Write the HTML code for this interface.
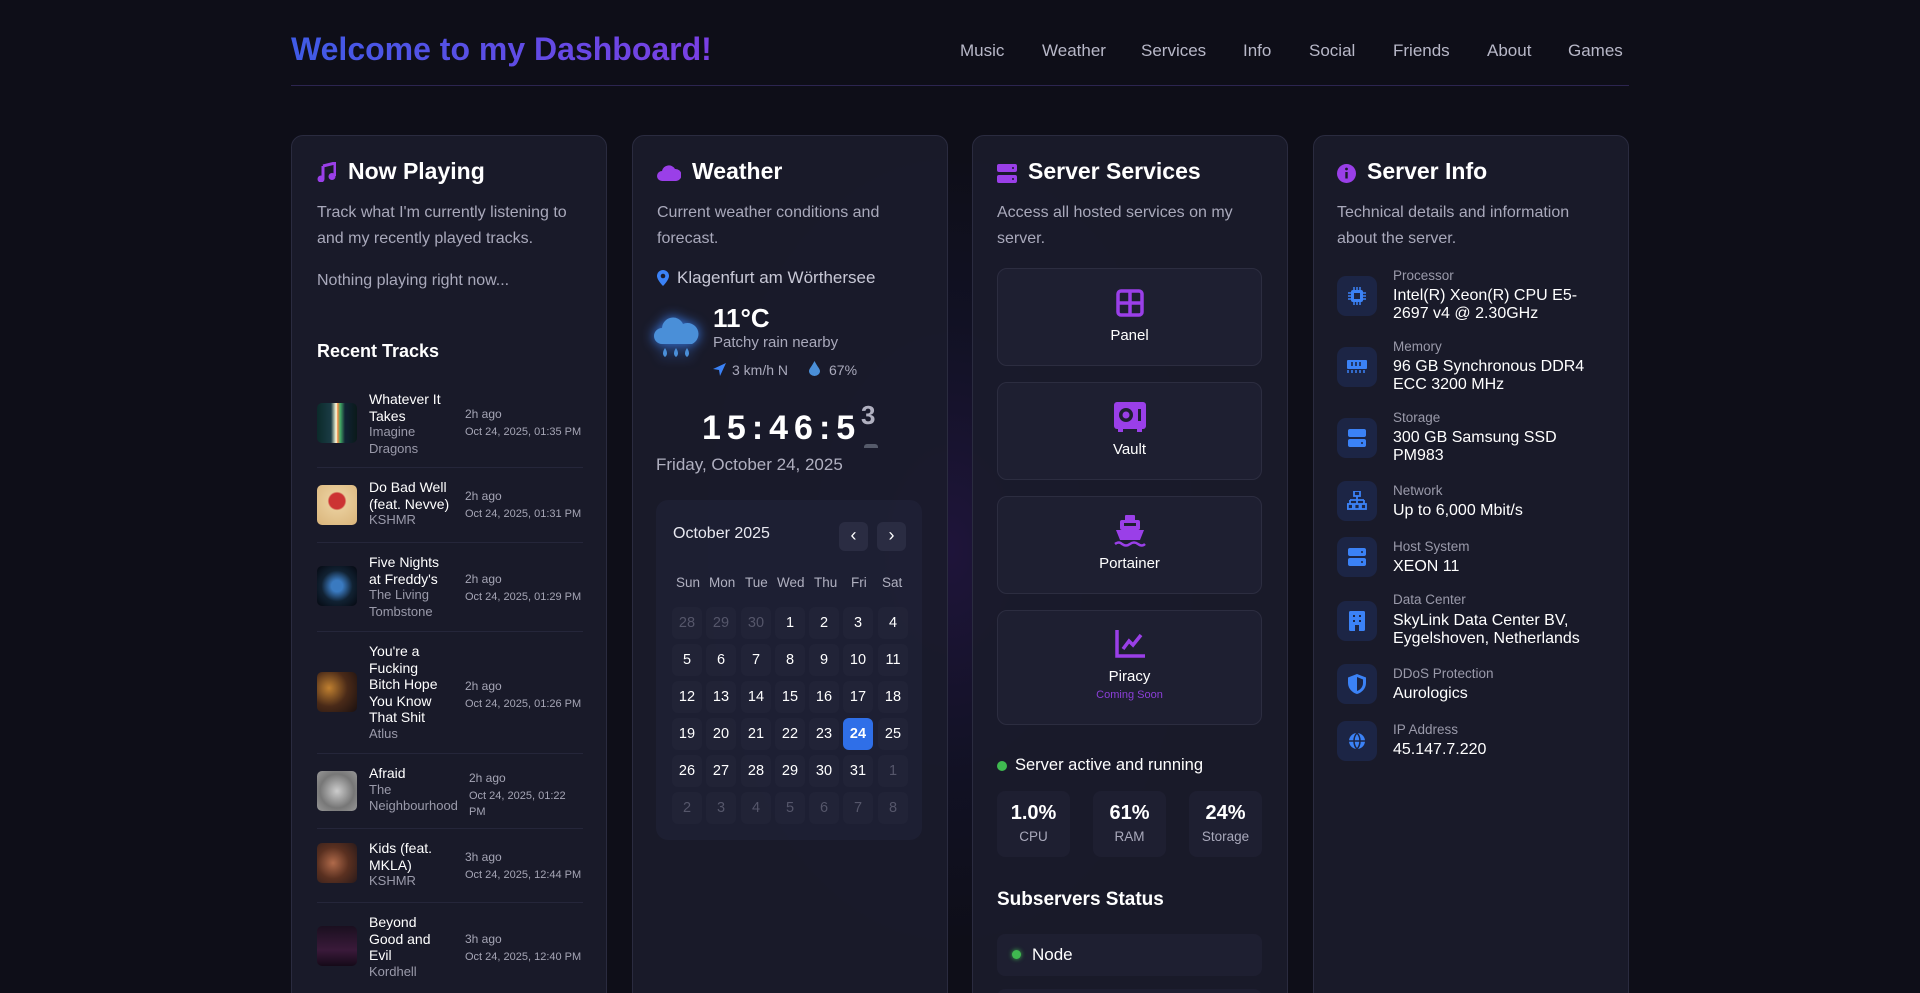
<!DOCTYPE html>
<html><head><meta charset="utf-8">
<style>
*{margin:0;padding:0;box-sizing:border-box}
html,body{width:1920px;height:993px;overflow:hidden}
body{background:#0e0e18;font-family:"Liberation Sans",sans-serif;color:#fff}
#w{position:relative;width:1920px;height:993px;overflow:hidden;background:#0e0e18}
.glow{position:absolute;left:700px;top:150px;width:500px;height:800px;background:radial-gradient(ellipse at center,rgba(80,40,160,0.25),rgba(40,40,120,0.12) 40%,rgba(0,0,0,0) 70%)}
.a{position:absolute;white-space:nowrap}
h1{position:absolute;left:291px;top:31px;font-size:32px;font-weight:bold;background:linear-gradient(90deg,#3f5be6,#7b3fe4);-webkit-background-clip:text;color:transparent}
.nav{position:absolute;top:41px;font-size:17px;color:#b8b8c8}
.hr{position:absolute;left:291px;top:85px;width:1338px;height:1px;background:#2c2550}
.card{position:absolute;top:135px;width:316px;height:880px;background:rgba(26,27,43,0.92);border:1px solid #2a2b3f;border-radius:12px}
.ct{position:absolute;top:158px;font-size:23px;font-weight:bold}
.desc{position:absolute;font-size:16px;color:#a9a9bb;line-height:26px}
.trk{position:absolute;left:317px;width:266px}
.thumb{position:absolute;left:0;width:40px;height:40px;border-radius:5px}
.tt{position:absolute;left:52px;width:82px;font-size:14px;line-height:16.5px;color:#fff;white-space:normal}
.tt span{color:#9a9aaa;font-size:13px;display:block}
.tm{position:absolute;left:148px;font-size:12px;color:#a5a5b5;line-height:20px;white-space:nowrap}
.tm b{font-weight:normal;font-size:11px;display:block;line-height:16px}
.sep{position:absolute;left:317px;width:266px;height:1px;background:#25263a}
.cell{position:absolute;width:30px;height:32px;line-height:32px;text-align:center;font-size:14.5px;color:#fff;border-radius:6px;background:rgba(255,255,255,0.02)}
.dim{color:#55566a}
.tile{position:absolute;left:997px;width:265px;background:#1e1f31;border:1px solid #2c2d40;border-radius:10px;text-align:center;font-size:15px}
.stat{position:absolute;top:791px;width:73px;height:66px;background:#1e1f31;border-radius:8px;text-align:center}
.stat b{display:block;font-size:20px;margin-top:11px}
.stat span{display:block;font-size:13.5px;color:#a9a9bb;margin-top:4px}
.ib{position:absolute;left:1337px;width:40px;height:40px;border-radius:9px;background:#1c2545}
.lb{position:absolute;left:1393px;font-size:13.5px;color:#9a9aaa}
.vl{position:absolute;left:1393px;font-size:16px;color:#fff;line-height:18px}
</style></head><body><div id="w">
<div class="glow"></div>
<h1>Welcome to my Dashboard!</h1>
<div class="nav" style="left:960px">Music</div>
<div class="nav" style="left:1042px">Weather</div>
<div class="nav" style="left:1141px">Services</div>
<div class="nav" style="left:1243px">Info</div>
<div class="nav" style="left:1309px">Social</div>
<div class="nav" style="left:1393px">Friends</div>
<div class="nav" style="left:1487px">About</div>
<div class="nav" style="left:1568px">Games</div>
<div class="hr"></div>

<div class="card" style="left:291px"></div>
<div class="card" style="left:632px"></div>
<div class="card" style="left:972px"></div>
<div class="card" style="left:1313px"></div>

<!-- Now playing -->
<svg class="a" style="left:317px;top:162px" width="19" height="20" viewBox="0 0 19 20"><path d="M6 4 L18 1 V14 M6 4 V17" stroke="#9a3fe8" stroke-width="3" fill="none"/><circle cx="4" cy="17" r="3.5" fill="#9a3fe8"/><circle cx="15" cy="14.5" r="3.5" fill="#9a3fe8"/></svg>
<div class="ct a" style="left:348px">Now Playing</div>
<div class="desc a" style="left:317px;top:200px">Track what I'm currently listening to<br>and my recently played tracks.</div>
<div class="desc a" style="left:317px;top:268px">Nothing playing right now...</div>
<div class="a" style="left:317px;top:341px;font-size:18px;font-weight:bold">Recent Tracks</div>

<div class="trk" style="top:390px;height:76px"><div class="thumb" style="top:13px;background:linear-gradient(90deg,#0b2a2a,#1a3b44 35%,#ffd 48%,#e84 52%,#4a6 58%,#123 70%,#0a1a1a)"></div><div class="tt" style="top:1px">Whatever It Takes<span>Imagine Dragons</span></div><div class="tm" style="top:14px">2h ago<b>Oct 24, 2025, 01:35 PM</b></div></div>
<div class="sep" style="top:467px"></div>
<div class="trk" style="top:478px"><div class="thumb" style="top:7px;background:radial-gradient(circle at 50% 40%,#c33 0 25%,#e8cc99 30%,#d9b47a)"></div><div class="tt" style="top:1px;width:90px">Do Bad Well (feat. Nevve)<span>KSHMR</span></div><div class="tm" style="top:8px">2h ago<b>Oct 24, 2025, 01:31 PM</b></div></div>
<div class="sep" style="top:542px"></div>
<div class="trk" style="top:553px"><div class="thumb" style="top:13px;background:radial-gradient(circle,#3a7ac0 0 20%,#123 55%,#050810)"></div><div class="tt" style="top:1px">Five Nights at Freddy's<span>The Living Tombstone</span></div><div class="tm" style="top:16px">2h ago<b>Oct 24, 2025, 01:29 PM</b></div></div>
<div class="sep" style="top:631px"></div>
<div class="trk" style="top:642px"><div class="thumb" style="top:30px;background:radial-gradient(circle at 30% 40%,#c08030,#4a2a18 50%,#1a1010)"></div><div class="tt" style="top:1px;width:80px">You're a Fucking Bitch Hope You Know That Shit<span>Atlus</span></div><div class="tm" style="top:34px">2h ago<b>Oct 24, 2025, 01:26 PM</b></div></div>
<div class="sep" style="top:753px"></div>
<div class="trk" style="top:764px"><div class="thumb" style="top:7px;background:radial-gradient(circle,#ccc,#777 60%,#999)"></div><div class="tt" style="top:1px;width:100px">Afraid<span>The Neighbourhood</span></div><div class="tm" style="top:4px;left:152px;width:112px;white-space:normal">2h ago<b>Oct 24, 2025, 01:22 PM</b></div></div>
<div class="sep" style="top:828px"></div>
<div class="trk" style="top:839px"><div class="thumb" style="top:4px;background:radial-gradient(circle at 40% 50%,#b06a4a,#5a3020 50%,#2a1a1a)"></div><div class="tt" style="top:1px">Kids (feat. MKLA)<span>KSHMR</span></div><div class="tm" style="top:8px">3h ago<b>Oct 24, 2025, 12:44 PM</b></div></div>
<div class="sep" style="top:902px"></div>
<div class="trk" style="top:913px"><div class="thumb" style="top:13px;background:linear-gradient(#1a0f1f,#3a1a3a 60%,#150a18)"></div><div class="tt" style="top:1px;width:76px">Beyond Good and Evil<span>Kordhell</span></div><div class="tm" style="top:16px">3h ago<b>Oct 24, 2025, 12:40 PM</b></div></div>

<!-- Weather -->
<svg class="a" style="left:657px;top:164px" width="24" height="17" viewBox="0 0 24 17"><path d="M5 17 A5 5 0 0 1 5 7 A7 7 0 0 1 18 5 A6 6 0 0 1 19 17Z" fill="#9a3fe8"/></svg>
<div class="ct a" style="left:692px">Weather</div>
<div class="desc a" style="left:657px;top:200px">Current weather conditions and<br>forecast.</div>
<svg class="a" style="left:657px;top:270px" width="12" height="16" viewBox="0 0 12 16"><path d="M6 0A6 6 0 0 0 0 6C0 10 6 16 6 16S12 10 12 6A6 6 0 0 0 6 0Z" fill="#3b82f6"/><circle cx="6" cy="6" r="2.3" fill="#1a1b2b"/></svg>
<div class="a" style="left:677px;top:268px;font-size:17px;color:#c8c8d6">Klagenfurt am Wörthersee</div>
<svg class="a" style="left:654px;top:312px;filter:drop-shadow(0 0 6px #3b82f6)" width="46" height="50" viewBox="0 0 46 50"><path d="M8 32 A8 8 0 0 1 8 16 A11 11 0 0 1 29 12 A9 9 0 0 1 38 32Z" fill="#4a8fd8"/><path d="M11 36 q-4 6 0 9 q4 -3 0 -9Z M22 36 q-4 6 0 9 q4 -3 0 -9Z M33 36 q-4 6 0 9 q4 -3 0 -9Z" fill="#4a8fd8"/></svg>
<div class="a" style="left:713px;top:303px;font-size:26px;font-weight:bold">11°C</div>
<div class="a" style="left:713px;top:334px;font-size:15px;color:#a9a9bb">Patchy rain nearby</div>
<svg class="a" style="left:713px;top:363px" width="13" height="13" viewBox="0 0 13 13"><path d="M13 0 L0 6 L6 7 L7 13Z" fill="#3b82f6"/></svg>
<div class="a" style="left:732px;top:362px;font-size:14px;color:#a9a9bb">3 km/h N</div>
<svg class="a" style="left:809px;top:361px" width="11" height="15" viewBox="0 0 11 15"><path d="M5.5 0 C3 5 0 8 0 10 A5.5 5 0 0 0 11 10 C11 8 8 5 5.5 0Z" fill="#4a8fd8"/></svg>
<div class="a" style="left:829px;top:362px;font-size:14px;color:#a9a9bb">67%</div>
<div class="a" style="left:702px;top:409px;font-size:34px;font-weight:bold;letter-spacing:6px">15:46:5</div>
<div class="a" style="left:861px;top:400px;font-size:26px;font-weight:bold;color:#b0b0c0">3</div>
<div class="a" style="left:864px;top:444px;width:14px;height:4px;border-radius:3px 3px 0 0;background:#555a6a"></div>
<div class="a" style="left:656px;top:455px;font-size:17px;color:#b0b0c0">Friday, October 24, 2025</div>
<div class="a" style="left:656px;top:500px;width:266px;height:340px;border-radius:12px;background:rgba(35,38,62,0.45)"></div>
<div class="a" style="left:673px;top:525px;font-size:16px;color:#e8e8f0">October 2025</div>
<div class="a" style="left:839px;top:522px;width:29px;height:29px;border-radius:6px;background:#2a2c42;text-align:center;line-height:27px;font-size:18px">‹</div>
<div class="a" style="left:877px;top:522px;width:29px;height:29px;border-radius:6px;background:#2a2c42;text-align:center;line-height:27px;font-size:18px">›</div>
<div class="a" style="left:676px;top:575px;font-size:13.5px;color:#b0b0c0">
<span style="position:absolute;left:0">Sun</span><span style="position:absolute;left:33px">Mon</span><span style="position:absolute;left:69px">Tue</span><span style="position:absolute;left:101px">Wed</span><span style="position:absolute;left:138px">Thu</span><span style="position:absolute;left:175px">Fri</span><span style="position:absolute;left:206px">Sat</span></div>
<div id="cal"></div>
<script>
(function(){var xs=[687,721,756,790,824,858,893],ys=[623,660,697,734,771,808];
var d=[28,29,30,1,2,3,4,5,6,7,8,9,10,11,12,13,14,15,16,17,18,19,20,21,22,23,24,25,26,27,28,29,30,31,1,2,3,4,5,6,7,8];
var h='';for(var i=0;i<42;i++){var r=Math.floor(i/7),c=i%7;var dim=(i<3||i>33);var st='left:'+(xs[c]-15)+'px;top:'+(ys[r]-16)+'px';
var cls='cell'+(dim?' dim':'');if(d[i]==24&&!dim){st+=';background:#2f6fe8;font-weight:bold';}
h+='<div class="'+cls+'" style="'+st+'">'+d[i]+'</div>';}
document.getElementById('cal').innerHTML=h;})();
</script>

<!-- Server services -->
<svg class="a" style="left:997px;top:164px" width="20" height="19" viewBox="0 0 20 19"><rect x="0" y="0" width="20" height="8" rx="2" fill="#9a3fe8"/><rect x="0" y="11" width="20" height="8" rx="2" fill="#9a3fe8"/><circle cx="16" cy="4" r="1" fill="#1a1b2b"/><circle cx="16" cy="15" r="1" fill="#1a1b2b"/></svg>
<div class="ct a" style="left:1028px">Server Services</div>
<div class="desc a" style="left:997px;top:200px">Access all hosted services on my<br>server.</div>
<div class="tile" style="top:268px;height:98px"><svg style="margin-top:20px" width="28" height="28" viewBox="0 0 28 28"><rect x="2" y="2" width="24" height="24" rx="3" fill="none" stroke="#9a3fe8" stroke-width="3.5"/><path d="M14 2V26M2 14H26" stroke="#9a3fe8" stroke-width="3.5"/></svg><div style="margin-top:6px">Panel</div></div>
<div class="tile" style="top:382px;height:98px"><svg style="margin-top:19px" width="32" height="30" viewBox="0 0 32 30"><rect x="0" y="0" width="32" height="27" rx="3" fill="#9a3fe8"/><circle cx="12" cy="13" r="7" fill="#1e1f31"/><circle cx="12" cy="13" r="3.5" fill="#9a3fe8"/><rect x="24" y="7" width="3" height="12" fill="#1e1f31"/><rect x="4" y="27" width="5" height="3" fill="#9a3fe8"/><rect x="23" y="27" width="5" height="3" fill="#9a3fe8"/></svg><div style="margin-top:5px">Vault</div></div>
<div class="tile" style="top:496px;height:98px"><svg style="margin-top:18px" width="32" height="32" viewBox="0 0 32 32"><rect x="11" y="0" width="10" height="6" rx="1" fill="#9a3fe8"/><rect x="6" y="5" width="20" height="10" rx="2" fill="#9a3fe8"/><path d="M2 15H30L26 25H6Z" fill="#9a3fe8"/><rect x="10" y="8" width="12" height="3" fill="#1e1f31"/><path d="M1 29 q4 -3 7 0 q4 3 8 0 q4 -3 8 0 q4 3 7 0" stroke="#9a3fe8" stroke-width="2.5" fill="none"/></svg><div style="margin-top:4px">Portainer</div></div>
<div class="tile" style="top:610px;height:115px"><svg style="margin-top:19px" width="30" height="28" viewBox="0 0 30 28"><path d="M2 0V26H30" stroke="#9a3fe8" stroke-width="3.5" fill="none"/><path d="M8 19L14 11L18 15L26 5" stroke="#9a3fe8" stroke-width="3.5" fill="none"/></svg><div style="margin-top:6px">Piracy</div><div style="font-size:11px;color:#8b3fd8;margin-top:4px">Coming Soon</div></div>
<div class="a" style="left:997px;top:761px;width:10px;height:10px;border-radius:50%;background:#3fb950"></div>
<div class="a" style="left:1015px;top:756px;font-size:16.5px">Server active and running</div>
<div class="stat" style="left:997px"><b>1.0%</b><span>CPU</span></div>
<div class="stat" style="left:1093px"><b>61%</b><span>RAM</span></div>
<div class="stat" style="left:1189px"><b>24%</b><span>Storage</span></div>
<div class="a" style="left:997px;top:889px;font-size:19px;font-weight:bold">Subservers Status</div>
<div class="a" style="left:997px;top:934px;width:265px;height:42px;border-radius:8px;background:#1e1f31"></div>
<div class="a" style="left:1012px;top:950px;width:9px;height:9px;border-radius:50%;background:#3fb950;box-shadow:0 0 5px #3fb950"></div>
<div class="a" style="left:1032px;top:945px;font-size:17px">Node</div>
<div class="a" style="left:997px;top:989px;width:265px;height:42px;border-radius:8px;background:#1e1f31"></div>

<!-- Server info -->
<svg class="a" style="left:1337px;top:164px" width="19" height="19" viewBox="0 0 19 19"><circle cx="9.5" cy="9.5" r="9.5" fill="#9a3fe8"/><rect x="8.3" y="8" width="2.4" height="6.5" fill="#1a1b2b"/><circle cx="9.5" cy="5" r="1.4" fill="#1a1b2b"/></svg>
<div class="ct a" style="left:1367px">Server Info</div>
<div class="desc a" style="left:1337px;top:200px">Technical details and information<br>about the server.</div>

<div class="ib" style="top:276px"></div><svg class="a" style="left:1348px;top:287px" width="18" height="18" viewBox="0 0 18 18"><rect x="3" y="3" width="12" height="12" rx="2" fill="#3b82f6"/><rect x="6" y="6" width="6" height="6" fill="#1c2545"/><path d="M6 0V3M9 0V3M12 0V3M6 15V18M9 15V18M12 15V18M0 6H3M0 9H3M0 12H3M15 6H18M15 9H18M15 12H18" stroke="#3b82f6" stroke-width="1.5"/></svg>
<div class="lb" style="top:268px">Processor</div><div class="vl" style="top:287px">Intel(R) Xeon(R) CPU E5-<br>2697 v4 @ 2.30GHz</div>

<div class="ib" style="top:347px"></div><svg class="a" style="left:1347px;top:359px" width="20" height="14" viewBox="0 0 20 14"><rect x="0" y="1" width="20" height="9" rx="1" fill="#3b82f6"/><path d="M5 3V7M9 3V7M13 3V7" stroke="#1c2545" stroke-width="1.6"/><path d="M1 11V14M5 11V14M9 11V14M13 11V14M17 11V14" stroke="#3b82f6" stroke-width="1.5"/></svg>
<div class="lb" style="top:339px">Memory</div><div class="vl" style="top:358px">96 GB Synchronous DDR4<br>ECC 3200 MHz</div>

<div class="ib" style="top:418px"></div><svg class="a" style="left:1348px;top:429px" width="18" height="18" viewBox="0 0 18 18"><rect x="0" y="0" width="18" height="8" rx="2" fill="#3b82f6"/><rect x="0" y="10" width="18" height="8" rx="2" fill="#3b82f6"/><circle cx="14" cy="14" r="1" fill="#1c2545"/></svg>
<div class="lb" style="top:410px">Storage</div><div class="vl" style="top:429px">300 GB Samsung SSD<br>PM983</div>

<div class="ib" style="top:481px"></div><svg class="a" style="left:1347px;top:491px" width="20" height="20" viewBox="0 0 20 20"><rect x="7" y="0" width="6" height="5" fill="none" stroke="#3b82f6" stroke-width="1.8"/><path d="M10 5V9M3 9H17M3 9V13M17 9V13M10 9V13" stroke="#3b82f6" stroke-width="1.8"/><rect x="0.9" y="13" width="5" height="5" fill="none" stroke="#3b82f6" stroke-width="1.8"/><rect x="14" y="13" width="5" height="5" fill="none" stroke="#3b82f6" stroke-width="1.8"/><rect x="7.5" y="13" width="5" height="5" fill="none" stroke="#3b82f6" stroke-width="1.8"/></svg>
<div class="lb" style="top:483px">Network</div><div class="vl" style="top:502px">Up to 6,000 Mbit/s</div>

<div class="ib" style="top:537px"></div><svg class="a" style="left:1348px;top:548px" width="18" height="18" viewBox="0 0 18 18"><rect x="0" y="0" width="18" height="8" rx="2" fill="#3b82f6"/><rect x="0" y="10" width="18" height="8" rx="2" fill="#3b82f6"/><circle cx="14" cy="4" r="1" fill="#1c2545"/><circle cx="14" cy="14" r="1" fill="#1c2545"/></svg>
<div class="lb" style="top:539px">Host System</div><div class="vl" style="top:558px">XEON 11</div>

<div class="ib" style="top:601px"></div><svg class="a" style="left:1349px;top:611px" width="16" height="20" viewBox="0 0 16 20"><rect x="0" y="0" width="16" height="20" rx="1.5" fill="#3b82f6"/><path d="M4 4h2v2h-2zM10 4h2v2h-2zM4 9h2v2h-2zM10 9h2v2h-2z" fill="#1c2545"/><rect x="6" y="14" width="4" height="6" fill="#1c2545"/></svg>
<div class="lb" style="top:592px">Data Center</div><div class="vl" style="top:612px">SkyLink Data Center BV,<br>Eygelshoven, Netherlands</div>

<div class="ib" style="top:664px"></div><svg class="a" style="left:1348px;top:674px" width="18" height="20" viewBox="0 0 18 20"><path d="M9 0L18 3.5V9C18 15 13 19 9 20C5 19 0 15 0 9V3.5Z" fill="#3b82f6"/><path d="M9 3L15 5.5V9C15 13 12 16 9 17Z" fill="#1c2545"/></svg>
<div class="lb" style="top:666px">DDoS Protection</div><div class="vl" style="top:685px">Aurologics</div>

<div class="ib" style="top:721px"></div><svg class="a" style="left:1348px;top:732px" width="18" height="18" viewBox="0 0 18 18"><circle cx="9" cy="9" r="8" fill="#3b82f6"/><path d="M1 9H17M9 1C5 5 5 13 9 17M9 1C13 5 13 13 9 17" stroke="#1c2545" stroke-width="1.5" fill="none"/></svg>
<div class="lb" style="top:722px">IP Address</div><div class="vl" style="top:741px">45.147.7.220</div>
</div></body></html>
